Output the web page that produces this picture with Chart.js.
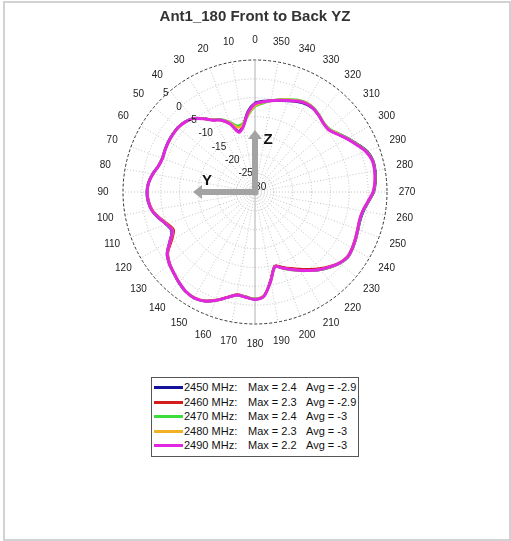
<!DOCTYPE html>
<html>
<head>
<meta charset="utf-8">
<script src="https://cdn.jsdelivr.net/npm/chart.js@4.4.1/dist/chart.umd.min.js"></script>
<style>
  html, body { margin: 0; padding: 0; background: #fff; }
  body { width: 511px; height: 541px; position: relative; overflow: hidden;
         font-family: Arial, "Liberation Sans", sans-serif; }
  #frame { position: absolute; left: 3px; top: 1px; width: 504px; height: 536px;
           border: 2px solid #d2d2d2; }
  #chart { position: absolute; left: 0; top: 0; }
  #legend { position: absolute; left: 151px; top: 377px; width: 206px;
            border: 1px solid #555; background: #fff; padding: 2px 0 3px 0; }
  .row { position: relative; height: 14.6px; font-size: 11px; line-height: 14.6px;
         color: #111; white-space: nowrap; }
  .row .ln { position: absolute; left: 2px; top: 6px; width: 29px; height: 3px; }
  .row .f { position: absolute; left: 32px; }
  .row .m { position: absolute; left: 96px; }
  .row .a { position: absolute; left: 154px; }
</style>
</head>
<body>
<div id="frame"></div>
<canvas id="chart" width="511" height="541"></canvas>
<div id="legend"></div>
<script>
// ============================================
// 极坐标方向图 Ant1_180 Front to Back YZ
// ============================================

const TITLE = 'Ant1_180 Front to Back YZ';

// 角度（度），每 5 度一个点，0 在上方，逆时针增加
const ANGLES = Array.from({ length: 72 }, (_, i) => i * 5);

// 径向刻度（dB）
const R_MIN = -30;
const R_MAX = 5;
const R_TICKS = [5, 0, -5, -10, -15, -20, -25, -30];

const FREQS = ['2450 MHz:', '2460 MHz:', '2470 MHz:', '2480 MHz:', '2490 MHz:'];
const MAXES = ['2.4', '2.3', '2.4', '2.3', '2.2'];
const AVGS = ['-2.9', '-2.9', '-3', '-3', '-3'];
const COLORS = ['#13139a', '#d41c1c', '#3ddc3d', '#f2b027', '#e028e0'];

// 各频点增益（dB），按 ANGLES 顺序：0,5,...,355
const G2450 = [
  -6.4, -8.5, -12.0, -13.3, -10.6, -8.9, -7.9, -6.2, -4.5, -3.7, -3.3, -3.3,
  -3.4, -3.6, -3.8, -3.4, -2.4, -1.6, -1.3, -1.5, -2.2, -3.5, -4.9, -5.6,
  -3.9, -1.5, -0.3, 0.5, 1.4, 2.2, 2.4, 1.9, 0.6, -1.0, -2.2, -2.0,
  -1.5, -2.3, -6.1, -9.6, -8.6, -7.4, -6.0, -4.6, -3.1, -1.8, -0.6, 0.1,
  -0.1, -0.5, -0.9, -1.1, -0.8, 0.2, 1.5, 2.1, 2.4, 2.4, 1.6, 0.0,
  -1.5, -3.0, -4.2, -4.2, -3.6, -3.1, -3.1, -3.6, -4.3, -4.9, -5.4, -5.8
];
const G2460 = [
  -6.6, -8.8, -12.2, -13.5, -10.8, -9.0, -8.0, -6.3, -4.6, -3.8, -3.4, -3.4,
  -3.5, -3.7, -3.9, -3.5, -2.5, -1.7, -1.4, -1.7, -2.4, -3.8, -5.3, -6.2,
  -4.5, -1.8, -0.5, 0.4, 1.3, 2.1, 2.3, 1.8, 0.5, -1.1, -2.4, -2.1,
  -1.6, -2.4, -6.2, -9.7, -8.8, -7.7, -6.4, -5.0, -3.5, -2.1, -0.8, -0.1,
  -0.3, -0.7, -1.1, -1.3, -1.0, 0.1, 1.4, 2.0, 2.3, 2.3, 1.5, -0.1,
  -1.7, -3.2, -4.3, -4.3, -3.6, -3.0, -2.9, -3.4, -4.2, -4.8, -5.4, -6.0
];
const G2470 = [
  -7.3, -9.5, -11.5, -11.8, -10.2, -8.8, -7.9, -6.3, -4.6, -3.8, -3.4, -3.4,
  -3.5, -3.7, -3.9, -3.5, -2.5, -1.7, -1.4, -1.6, -2.2, -3.6, -5.0, -5.8,
  -4.0, -1.6, -0.4, 0.4, 1.3, 2.1, 2.4, 1.9, 0.6, -1.0, -2.3, -2.1,
  -1.7, -2.5, -6.0, -9.4, -8.4, -7.2, -5.9, -4.5, -3.1, -1.8, -0.6, 0.1,
  -0.1, -0.5, -0.9, -1.2, -0.9, 0.1, 1.4, 2.0, 2.3, 2.3, 1.5, -0.1,
  -1.6, -3.0, -4.1, -4.1, -3.4, -2.8, -2.6, -3.1, -3.9, -4.6, -5.4, -6.4
];
const G2480 = [
  -7.1, -9.3, -11.8, -12.3, -10.4, -8.9, -7.9, -6.3, -4.6, -3.8, -3.4, -3.4,
  -3.5, -3.7, -3.9, -3.5, -2.5, -1.7, -1.4, -1.6, -2.3, -3.7, -5.1, -5.9,
  -4.1, -1.6, -0.4, 0.4, 1.3, 2.1, 2.3, 1.8, 0.6, -1.0, -2.3, -2.0,
  -1.6, -2.4, -6.0, -9.5, -8.5, -7.3, -6.0, -4.6, -3.2, -1.9, -0.7, 0.0,
  -0.2, -0.6, -1.0, -1.3, -1.0, 0.0, 1.3, 1.9, 2.2, 2.2, 1.4, -0.2,
  -1.7, -3.1, -4.2, -4.2, -3.5, -2.9, -2.7, -3.2, -4.0, -4.7, -5.4, -6.2
];
const G2490 = [
  -6.6, -8.8, -12.3, -13.6, -10.8, -9.0, -8.0, -6.3, -4.6, -3.8, -3.4, -3.4,
  -3.5, -3.7, -3.9, -3.5, -2.5, -1.7, -1.4, -1.6, -2.2, -3.6, -5.0, -5.8,
  -4.0, -1.6, -0.4, 0.4, 1.3, 2.1, 2.4, 1.9, 0.6, -1.0, -2.3, -2.0,
  -1.5, -2.3, -6.0, -9.5, -8.5, -7.3, -6.0, -4.6, -3.2, -1.9, -0.7, 0.0,
  -0.2, -0.6, -1.0, -1.3, -1.0, 0.0, 1.3, 1.9, 2.2, 2.2, 1.3, -0.3,
  -1.8, -3.3, -4.4, -4.3, -3.6, -3.0, -2.9, -3.4, -4.2, -4.8, -5.4, -6.0
];
const SERIES = [G2450, G2460, G2470, G2480, G2490];

// Chart.js 雷达图是顺时针的，这里把顺序反过来变成逆时针
const N = ANGLES.length;
const ORDER = ANGLES.map((_, i) => (N - i) % N);
const labels = ORDER.map(k => ANGLES[k]);

const datasets = SERIES.map((s, i) => ({
  label: FREQS[i],
  data: ORDER.map(k => s[k]),
  borderColor: COLORS[i],
  borderWidth: i === 4 ? 3 : 2.5,
  backgroundColor: 'transparent',
  fill: false,
  pointRadius: 0,
  tension: 0.3,
  order: 5 - i   // 2490 画在最上面
}));

const FONT = 'Arial, "Liberation Sans", sans-serif';

// 角度标签、径向刻度、坐标箭头
const polarDecor = {
  id: 'polarDecor',
  afterDatasetsDraw(chart) {
    const r = chart.scales.r;
    const ctx = chart.ctx;
    const cx = r.xCenter, cy = r.yCenter;
    ctx.save();
    ctx.fillStyle = '#222';
    ctx.textAlign = 'center';
    ctx.textBaseline = 'middle';
    ctx.font = '10px ' + FONT;
    // 角度标签（每 10 度）
    labels.forEach((a, i) => {
      if (a % 10 !== 0) return;
      const p = r.getPointPosition(i, r.drawingArea + 20);
      ctx.fillText(String(a), p.x, p.y);
    });
    // 径向刻度，沿 45 度方向
    const s = Math.sin(Math.PI / 4), c = Math.cos(Math.PI / 4);
    R_TICKS.forEach(v => {
      const d = r.getDistanceFromCenterForValue(v);
      ctx.fillText(String(v), cx - d * s + 4, cy - d * c - 5);
    });
    // 坐标箭头
    const len = r.drawingArea * 0.47;
    ctx.fillStyle = '#a3a3a3';
    ctx.fillRect(cx - 3, cy - len + 8, 6, len - 8 + 3);
    ctx.beginPath();
    ctx.moveTo(cx, cy - len);
    ctx.lineTo(cx - 7, cy - len + 9);
    ctx.lineTo(cx + 7, cy - len + 9);
    ctx.closePath();
    ctx.fill();
    ctx.fillRect(cx - len + 8, cy - 3, len - 8 + 3, 6);
    ctx.beginPath();
    ctx.moveTo(cx - len, cy);
    ctx.lineTo(cx - len + 9, cy - 7);
    ctx.lineTo(cx - len + 9, cy + 7);
    ctx.closePath();
    ctx.fill();
    ctx.fillStyle = '#111';
    ctx.font = 'bold 15px ' + FONT;
    ctx.fillText('Z', cx + 13, cy - len + 10);
    ctx.fillText('Y', cx - len + 14, cy - 11);
    ctx.restore();
  }
};

new Chart(document.getElementById('chart'), {
  type: 'radar',
  data: { labels, datasets },
  options: {
    responsive: false,
    animation: false,
    devicePixelRatio: 1,
    layout: { padding: { top: 8, left: 123, right: 124, bottom: 217 } },
    scales: {
      r: {
        min: R_MIN,
        max: R_MAX,
        ticks: { stepSize: 5, display: false },
        pointLabels: { display: false },
        grid: {
          circular: true,
          color: ctx => ctx.tick && ctx.tick.value === R_MAX ? '#333' : '#bdbdbd',
          lineWidth: 1
        },
        border: {
          dash: ctx => ctx.tick && ctx.tick.value === R_MAX ? [3, 2] : [1, 2]
        },
        angleLines: {
          color: ctx => ctx.index % 2 ? 'transparent' : (ctx.index % 36 === 0 ? '#b0b0b0' : '#c4c4c4'),
          lineWidth: ctx => ctx.index % 2 ? 0 : 1,
          borderDash: ctx => ctx.index % 36 === 0 ? [] : [1, 2]
        }
      }
    },
    plugins: {
      legend: { display: false },
      tooltip: { enabled: false },
      title: {
        display: true,
        text: TITLE,
        color: '#333',
        font: { size: 15, weight: 'bold', family: FONT },
        padding: { top: 0, bottom: 34 }
      }
    }
  },
  plugins: [polarDecor]
});

// 图例
document.getElementById('legend').innerHTML = FREQS.map((f, i) => `
  <div class="row">
    <span class="ln" style="background:${COLORS[i]}"></span>
    <span class="f">${f}</span>
    <span class="m">Max = ${MAXES[i]}</span>
    <span class="a">Avg = ${AVGS[i]}</span>
  </div>`).join('');
</script>
</body>
</html>
